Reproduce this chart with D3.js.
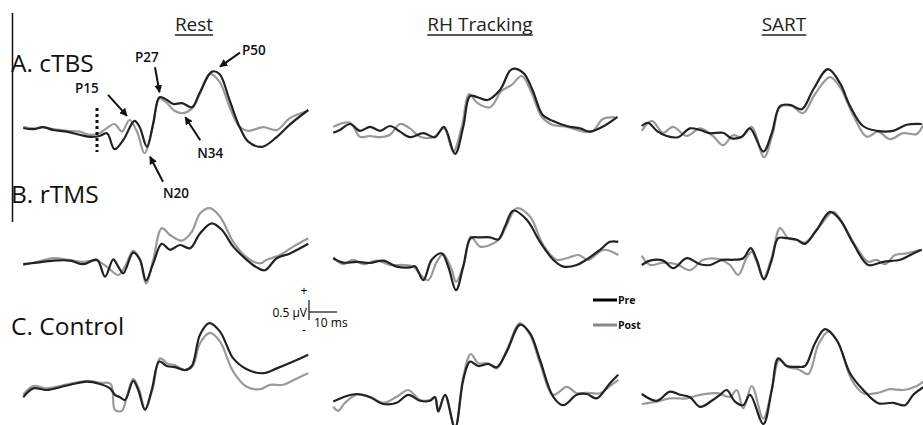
<!DOCTYPE html>
<html>
<head>
<meta charset="utf-8">
<script src="https://cdnjs.cloudflare.com/ajax/libs/d3/7.8.5/d3.min.js"></script>
<style>
body { margin: 0; background: #fff; }
svg { display: block; font-family: "Open Sans", "Noto Sans", sans-serif; }
</style>
</head>
<body>
<svg id="chart" width="923" height="425"></svg>
<script>
// conditions (columns) and protocols (rows)
var conditions = ["Rest", "RH Tracking", "SART"];
var protocols = ["A. cTBS", "B. rTMS", "C. Control"];
var seriesNames = ["Pre", "Post"];

// waveforms: [time ms, amplitude µV]
var cTBS_rest_pre = [[-29.5,0],[-25.5,-0.03],[-21.5,0.02],[-17.5,-0.05],[-12,-0.09],[-7,-0.17],[-3,-0.22],[1,-0.2],[4,-0.13],[7,-0.53],[10.5,-0.3],[15,0.18],[17,0.03],[20,-0.47],[22.5,0.12],[25,0.77],[28,0.7],[30.5,0.6],[34,0.62],[38,0.52],[41,0.87],[46,1.41],[49,1.35],[53,0.7],[57,0.03],[60.5,-0.34],[66,-0.47],[72,-0.22],[77,0.08],[84.5,0.45]];
var cTBS_rest_post = [[-29.5,0.03],[-25.5,-0.01],[-21.5,0.02],[-17.5,-0.03],[-12,-0.07],[-7,-0.09],[-3,-0.17],[1,-0.13],[4,0],[7,0.1],[10,-0.09],[13,0.2],[16,-0.09],[19,-0.63],[22,-0.05],[25,0.74],[28,0.62],[31,0.43],[34.5,0.37],[38,0.49],[41,0.83],[45,1.35],[49,1.16],[53,0.53],[57,0.03],[60.5,-0.07],[66.5,0.02],[72,-0.05],[77,0.24],[84.5,0.43]];
var cTBS_rh_pre = [[-28.7,-0.12],[-26,-0.05],[-22,0.1],[-18,-0.07],[-14,0.03],[-10,-0.07],[-6,0.05],[-2,-0.09],[2,-0.23],[7.3,-0.13],[12,-0.23],[15.6,0.03],[20,-0.65],[23.3,0.03],[26,0.8],[29,0.77],[33,0.7],[38,0.95],[42.7,1.47],[47.3,1.38],[51,0.95],[55,0.33],[59,0.18],[64.7,0.05],[70,-0.01],[74,-0.09],[79,0.03],[85,0.28]];
var cTBS_rh_post = [[-28.7,0.03],[-22,0.13],[-18,-0.22],[-14,-0.2],[-10,-0.23],[-6,-0.17],[-2,0.1],[2,-0.01],[6,-0.22],[11.3,-0.23],[15.6,-0.01],[19.3,-0.59],[22.7,0.03],[25.7,0.85],[29,0.62],[34,0.52],[38.7,0.93],[42.7,1.08],[46.7,1.3],[50.7,0.87],[54.7,0.28],[59,0.08],[64.7,0.03],[71.3,-0.09],[75.3,-0.07],[79,0.22],[84,0.27]];
var cTBS_sart_pre = [[-28.5,0.05],[-25.9,0.13],[-22.5,-0.07],[-18.5,-0.2],[-14,-0.23],[-9.2,-0.01],[-5.2,-0.05],[-1.2,-0.13],[4,-0.12],[7.5,-0.26],[11.5,-0.22],[14.8,-0.01],[20.1,-0.59],[23.5,-0.13],[26.8,0.55],[30.8,0.58],[35.5,0.47],[40,0.95],[46,1.47],[50.8,1.12],[54.8,0.55],[60,0.05],[65.5,-0.07],[72,-0.07],[77.5,0.08],[83.5,0.1]];
var cTBS_sart_post = [[-28.5,-0.07],[-24.5,0.18],[-20,-0.12],[-16,0.03],[-10.5,-0.2],[-5.2,-0.01],[0,-0.2],[4,-0.43],[8,-0.18],[11.5,-0.23],[15.5,0.03],[20.4,-0.73],[23.9,-0.13],[26.8,0.52],[31.5,0.55],[36,0.37],[40.8,0.85],[46.8,1.27],[50.8,1.02],[56,0.33],[61.5,-0.22],[66,-0.09],[70.8,-0.28],[76,-0.13],[81.5,-0.15],[84,0.08]];

var rTMS_rest_pre = [[-29.5,-0.03],[-24,0.01],[-17.5,0.06],[-10.8,0.06],[-5.5,-0.03],[0,0.08],[3.2,-0.34],[6.5,0.09],[8.5,-0.09],[10.5,-0.26],[14.5,0.26],[17.2,0.08],[19.6,-0.44],[22.5,-0.01],[25.9,0.48],[29.2,0.33],[33.2,0.45],[37.2,0.37],[41.2,0.74],[45.9,0.99],[49.9,0.83],[54.5,0.41],[59.9,0.08],[63.9,-0.11],[67.2,-0.18],[71.9,0.12],[77.2,0.24],[84.5,0.48]];
var rTMS_rest_post = [[-29.5,-0.05],[-24,0.03],[-17.5,0.12],[-10.8,0.07],[-5.5,0.03],[0,0.06],[3.9,-0.09],[8.5,-0.3],[11.2,-0.09],[14.5,0.31],[17.2,0.08],[19.6,-0.51],[22.5,0.08],[25.9,0.87],[29.2,0.7],[33.9,0.56],[37.9,0.78],[41.2,1.24],[45.2,1.37],[49.2,1.16],[54.5,0.53],[59.9,0.14],[65.2,-0.01],[67.9,0.08],[73.2,0.2],[78.5,0.41],[84.5,0.62]];
var rTMS_rh_pre = [[-28.7,0.12],[-24.7,0.01],[-19.3,0.03],[-14,0],[-8.7,0.06],[-3.3,-0.09],[2,-0.11],[4,-0.08],[7.3,-0.43],[10.7,0.08],[14.7,0.24],[17.3,-0.09],[20.4,-0.68],[23.3,-0.09],[26.3,0.62],[30,0.64],[34,0.64],[37.3,0.59],[40,0.91],[43.3,1.31],[48.7,1.08],[54,0.53],[59.3,0.08],[63.3,-0.09],[68.7,-0.05],[72.7,0.09],[78,0.33],[82,0.53],[85.3,0.53]];
var rTMS_rh_post = [[-28.7,0.14],[-24.7,-0.03],[-20.7,0.08],[-16.7,-0.03],[-11.3,0.06],[-6,-0.05],[-0.7,-0.05],[3.3,-0.09],[6.7,-0.33],[9.3,-0.43],[12.7,0.03],[15.3,0.22],[18.7,-0.17],[20.4,-0.47],[23.6,-0.01],[26.3,0.66],[30,0.41],[34,0.45],[38,0.62],[40.7,0.95],[44.7,1.37],[50,1.16],[55.3,0.45],[60.7,0.08],[64.7,0.12],[69.3,0.2],[73.3,0.08],[79.3,0.33],[85.3,0.2]];
var rTMS_sart_pre = [[-28.5,-0.05],[-25.2,0.06],[-19.9,0.06],[-15.9,-0.13],[-10.5,0.12],[-5.2,-0.03],[-1.2,-0.05],[3.5,0.08],[7.5,0.08],[12.1,0.12],[15.1,0.37],[17.5,0.08],[20.4,-0.41],[23.5,0.08],[26.1,0.62],[29.5,0.62],[33.5,0.58],[36.8,0.48],[41.5,0.83],[46.8,1.28],[50.8,1.08],[56.1,0.49],[62.1,-0.05],[68.1,0.03],[74.8,0.08],[80.1,0.24],[83.5,0.33]];
var rTMS_sart_post = [[-28.5,0.18],[-25.2,-0.05],[-19.9,0.01],[-14.5,-0.03],[-9.2,-0.18],[-3.9,0.08],[2.8,0.09],[6.8,-0.05],[10.1,-0.3],[13.5,0.14],[15.5,0.28],[17.5,0.03],[20.1,-0.38],[23.5,0.14],[26.8,0.87],[30.1,0.62],[33.5,0.58],[36.8,0.51],[42.1,0.87],[48.1,1.28],[51.5,1.03],[56.8,0.45],[62.1,0.03],[65.5,0.08],[68.8,-0.03],[72.8,0.2],[77.5,0.24],[82.8,0.33]];

var control_rest_pre = [[-29.5,-0.18],[-25.5,0.04],[-20.1,0],[-14.8,0.07],[-9.5,0.15],[-4.1,0.21],[1.2,0.15],[5.2,0.04],[7.2,-0.12],[9.2,-0.18],[11.2,-0.25],[14.5,0.23],[16.5,0],[19.2,-0.5],[21.9,0],[24.9,0.71],[27.9,0.6],[31.2,0.57],[35.2,0.5],[37.9,0.6],[41.2,1.38],[44.9,1.67],[49.2,1.46],[54.5,0.79],[59.9,0.52],[66.5,0.42],[71.9,0.54],[78.5,0.71],[84.5,0.88]];
var control_rest_post = [[-29.5,-0.12],[-25.5,0.1],[-20.1,0.04],[-14.8,0.1],[-9.5,0.17],[-4.1,0.23],[1.2,0.18],[5.5,0.15],[7.2,-0.5],[9.9,-0.52],[11.9,-0.17],[14.5,0.28],[16.9,0],[19.2,-0.48],[22.3,0.04],[25.2,0.79],[28.5,0.65],[31.2,0.62],[35.2,0.5],[38.3,0.6],[41.2,1.17],[45.2,1.43],[49.2,1.21],[54.5,0.46],[59.9,0.08],[65.2,0.02],[69.2,0.13],[74.5,0.13],[79.9,0.29],[84.5,0.42]];
var control_rh_pre = [[-28.7,-0.29],[-24.7,-0.18],[-19.3,-0.1],[-14,-0.18],[-8.7,-0.35],[-3.3,-0.32],[1.3,-0.12],[6,-0.27],[10,-0.27],[12,-0.18],[13.3,-0.54],[16,-0.12],[20,-0.95],[23.3,0.25],[26,0.71],[29.3,0.6],[33.3,0.65],[36.7,0.57],[40.7,0.96],[46,1.63],[50,1.42],[54,0.75],[59.3,-0.17],[63.3,-0.38],[68.7,-0.12],[72.7,-0.1],[76.7,-0.21],[82,0.17],[85.3,0.38]];
var control_rh_post = [[-28.7,-0.42],[-26.7,-0.52],[-24,-0.32],[-19.3,-0.12],[-14,-0.17],[-8.7,-0.32],[-3.3,-0.17],[1.3,0],[6,-0.25],[10,-0.25],[12,-0.17],[13.3,-0.52],[16,-0.12],[20,-0.95],[23.3,0.33],[26.3,0.9],[29.3,0.67],[33.3,0.67],[36.7,0.54],[40.7,1],[46,1.67],[50,1.38],[54,0.67],[59.3,-0.12],[64.7,0.08],[68.7,-0.08],[72.7,-0.07],[78,-0.08],[82,0.1],[85.3,0.25]];
var control_sart_pre = [[-28.5,-0.1],[-22.5,-0.27],[-17.2,-0.04],[-13.2,-0.12],[-9.2,-0.18],[-5.2,-0.42],[-0.5,-0.27],[2.8,-0.12],[5.5,0],[8.8,-0.29],[12.1,-0.38],[14.8,-0.12],[20.1,-0.85],[23.5,0],[26.1,0.79],[29.5,0.6],[33.5,0.58],[36.8,0.6],[40.8,1.17],[44.8,1.52],[49.5,1.25],[54.8,0.42],[60.1,0],[66.1,-0.33],[72.1,-0.32],[76.8,-0.38],[80.1,-0.12],[84.1,0.07]];
var control_sart_post = [[-28.5,-0.35],[-22.5,-0.29],[-17.2,-0.21],[-10.5,-0.21],[-5.2,-0.12],[1.5,-0.08],[6.8,-0.17],[9.5,0],[12.1,-0.46],[15.5,0.1],[20.1,-0.71],[23.5,0],[26.5,0.75],[30.1,0.57],[34.1,0.52],[38.1,0.4],[42.1,1.13],[46.1,1.46],[50.1,1.17],[55.5,0.25],[60.1,-0.08],[65.5,-0.08],[70.8,0.02],[76.1,0],[81.5,0.1],[84.1,0.21]];

// peak labels in the cTBS / Rest panel: [label, time, amplitude]
var peakLabels = [["P15", 15, 0.18], ["N20", 20, -0.47], ["P27", 25, 0.77], ["N34", 34.5, 0.37], ["P50", 46, 1.41]];

var waves = [
  [[cTBS_rest_pre, cTBS_rest_post], [cTBS_rh_pre, cTBS_rh_post], [cTBS_sart_pre, cTBS_sart_post]],
  [[rTMS_rest_pre, rTMS_rest_post], [rTMS_rh_pre, rTMS_rh_post], [rTMS_sart_pre, rTMS_sart_post]],
  [[control_rest_pre, control_rest_post], [control_rh_pre, control_rh_post], [control_sart_pre, control_sart_post]]
];

var svg = d3.select("#chart");
var colX = [22, 330, 638];
var rowY = [128, 263, 390];
var colors = ["#222", "#9a9a9a"];

function xScale(c) { return d3.scaleLinear().domain([-30, 84]).range([colX[c], colX[c] + 285]); }
function yScale(r) { return d3.scaleLinear().domain([0, 1]).range([rowY[r], rowY[r] - 40]); }

// column titles
var titleX = [194, 480, 784];
conditions.forEach(function(name, c) {
  var t = svg.append("text").attr("x", titleX[c]).attr("y", 31).attr("text-anchor", "middle")
    .attr("font-size", 19).attr("fill", "#222").text(name);
  var w = t.node().getComputedTextLength();
  svg.append("line").attr("x1", titleX[c] - w / 2).attr("x2", titleX[c] + w / 2)
    .attr("y1", 35).attr("y2", 35).attr("stroke", "#222").attr("stroke-width", 1.3);
});

// row labels
var labelY = [72, 203, 335];
protocols.forEach(function(name, r) {
  svg.append("text").attr("x", 11).attr("y", labelY[r]).attr("font-size", 24.5)
    .attr("fill", "#111").text(name);
});
svg.append("line").attr("x1", 12.5).attr("x2", 12.5).attr("y1", 13).attr("y2", 222)
  .attr("stroke", "#111").attr("stroke-width", 1.5);

// waveforms
var line = d3.line().curve(d3.curveCatmullRom.alpha(0.5));
waves.forEach(function(row, r) {
  var y = yScale(r);
  row.forEach(function(pair, c) {
    var x = xScale(c);
    line.x(function(d) { return x(d[0]); }).y(function(d) { return y(d[1]); });
    [1, 0].forEach(function(s) {
      svg.append("path").attr("d", line(pair[s])).attr("fill", "none")
        .attr("stroke", colors[s]).attr("stroke-width", 2.2);
    });
  });
});

// stimulus onset
var x0 = xScale(0), y0 = yScale(0);
svg.append("line").attr("x1", x0(0)).attr("x2", x0(0)).attr("y1", y0(0.5)).attr("y2", y0(-0.6))
  .attr("stroke", "#111").attr("stroke-width", 3).attr("stroke-dasharray", "3,3");

// peak annotations, offsets from the peak: arrow tip, arrow tail, text
var annot = {
  P15: { tip: [-7.5, -5], tail: [-26.5, -26], text: [-59.5, -28] },
  N20: { tip: [3, 10], tail: [16, 35], text: [16, 51] },
  P27: { tip: [0, -5], tail: [-4.5, -30], text: [-24.5, -35] },
  N34: { tip: [2, 4], tail: [17, 27], text: [14, 45] },
  P50: { tip: [8, -5], tail: [28, -19], text: [30, -17] }
};
svg.append("defs").append("marker").attr("id", "ah").attr("viewBox", "0 0 10 10")
  .attr("refX", 9).attr("refY", 5).attr("markerWidth", 4).attr("markerHeight", 4).attr("orient", "auto")
  .append("path").attr("d", "M0,0L10,5L0,10z").attr("fill", "#111");
peakLabels.forEach(function(p) {
  var px = x0(p[1]), py = y0(p[2]);
  var a = annot[p[0]];
  svg.append("line").attr("x1", px + a.tail[0]).attr("y1", py + a.tail[1])
    .attr("x2", px + a.tip[0]).attr("y2", py + a.tip[1])
    .attr("stroke", "#111").attr("stroke-width", 2).attr("marker-end", "url(#ah)");
  svg.append("text").attr("x", px + a.text[0]).attr("y", py + a.text[1]).attr("font-size", 13.5)
    .attr("font-weight", 600).attr("fill", "#111").text(p[0]);
});

// scale bar
var xs = xScale(0), ys = yScale(2);
var bx = 309, by = 320;
svg.append("line").attr("x1", bx).attr("x2", bx).attr("y1", by).attr("y2", by - (ys(0) - ys(0.5)))
  .attr("stroke", "#222").attr("stroke-width", 1.3);
svg.append("line").attr("x1", bx).attr("x2", bx + (xs(10) - xs(0)) + 3).attr("y1", by - 8).attr("y2", by - 8)
  .attr("stroke", "#222").attr("stroke-width", 1.3);
svg.append("text").attr("x", bx - 2).attr("y", by - 3).attr("text-anchor", "end").attr("font-size", 12).text("0.5 µV");
svg.append("text").attr("x", bx - 5).attr("y", by - 25).attr("text-anchor", "middle").attr("font-size", 12).text("+");
svg.append("text").attr("x", bx - 5).attr("y", by + 14).attr("text-anchor", "middle").attr("font-size", 12).text("-");
svg.append("text").attr("x", bx + 5).attr("y", by + 7).attr("font-size", 12).text("10 ms");

// legend
seriesNames.forEach(function(name, s) {
  var ly = 300 + s * 25;
  svg.append("line").attr("x1", 593).attr("x2", 617).attr("y1", ly).attr("y2", ly)
    .attr("stroke", s === 0 ? "#000" : "#888").attr("stroke-width", 3);
  svg.append("text").attr("x", 618).attr("y", ly + 4).attr("font-size", 10.5)
    .attr("font-weight", 700).attr("fill", "#111").text(name);
});
</script>
</body>
</html>
